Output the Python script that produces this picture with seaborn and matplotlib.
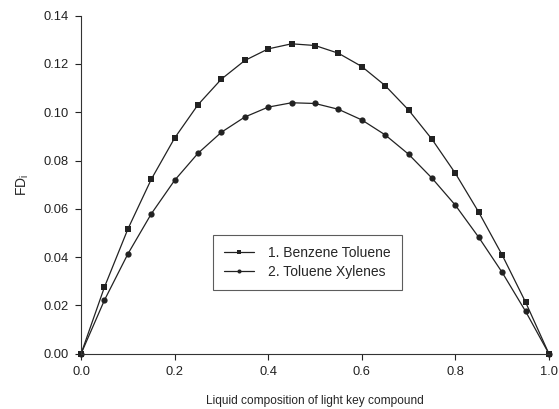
import pandas as pd
import seaborn as sns
import matplotlib.pyplot as plt

# liquid composition of the light key compound
x_comp = [0.0, 0.05, 0.10, 0.15, 0.20, 0.25, 0.30, 0.35, 0.40, 0.45, 0.50,
          0.55, 0.60, 0.65, 0.70, 0.75, 0.80, 0.85, 0.90, 0.95, 1.0]

# FD_i values
benzene_toluene = [0.0, 0.0276, 0.0516, 0.0722, 0.0893, 0.1031, 0.1137, 0.1214,
                   0.1262, 0.1283, 0.1276, 0.1244, 0.1189, 0.1110, 0.1009, 0.0888,
                   0.0747, 0.0586, 0.0409, 0.0214, 0.0]
toluene_xylenes = [0.0, 0.0222, 0.0413, 0.0579, 0.0718, 0.0830, 0.0917, 0.0980,
                   0.1021, 0.1039, 0.1036, 0.1012, 0.0968, 0.0906, 0.0826, 0.0727,
                   0.0615, 0.0482, 0.0337, 0.0176, 0.0]

series_names = ["1. Benzene Toluene", "2. Toluene Xylenes"]

df = pd.DataFrame({
    "x": x_comp * 2,
    "fd": benzene_toluene + toluene_xylenes,
    "series": [series_names[0]] * len(x_comp) + [series_names[1]] * len(x_comp),
})

sns.set_style("ticks")
plt.rcParams["font.family"] = ["Liberation Sans", "DejaVu Sans"]

fig, ax = plt.subplots(figsize=(5.59, 4.09), dpi=100)
fig.subplots_adjust(left=0.145, right=0.982, top=0.962, bottom=0.135)

sns.lineplot(data=df, x="x", y="fd", hue="series", style="series",
             markers={series_names[0]: "s", series_names[1]: "o"},
             dashes=False, palette=["#222222", "#222222"],
             markersize=4.5, markeredgewidth=0, linewidth=0.9, ax=ax)

ax.set_xlim(0, 1.0)
ax.set_ylim(0, 0.14)
ax.set_xticks([0.0, 0.2, 0.4, 0.6, 0.8, 1.0])
ax.set_yticks([0.0, 0.02, 0.04, 0.06, 0.08, 0.10, 0.12, 0.14])
ax.xaxis.set_major_formatter(plt.FormatStrFormatter("%.1f"))
ax.yaxis.set_major_formatter(plt.FormatStrFormatter("%.2f"))
ax.tick_params(labelsize=9.3, length=4, width=0.8, colors="#222222", pad=5)
sns.despine(ax=ax)
for sp in ["left", "bottom"]:
    ax.spines[sp].set_linewidth(0.8)
    ax.spines[sp].set_color("#333333")
for ln in ax.lines:
    ln.set_clip_on(False)

ax.set_xlabel("Liquid composition of light key compound", fontsize=8.6, labelpad=12)
ax.set_ylabel("FD$_\\mathregular{i}$", fontsize=10, labelpad=9)

leg = ax.legend(loc="upper left", bbox_to_anchor=(0.281, 0.351), borderaxespad=0,
                fontsize=10, frameon=True, fancybox=False, edgecolor="#333333",
                handlelength=2.2, handletextpad=1.0, borderpad=0.8,
                labelspacing=0.35, markerscale=0.65)
leg.get_frame().set_linewidth(0.8)

plt.savefig("out.png", dpi=100)
